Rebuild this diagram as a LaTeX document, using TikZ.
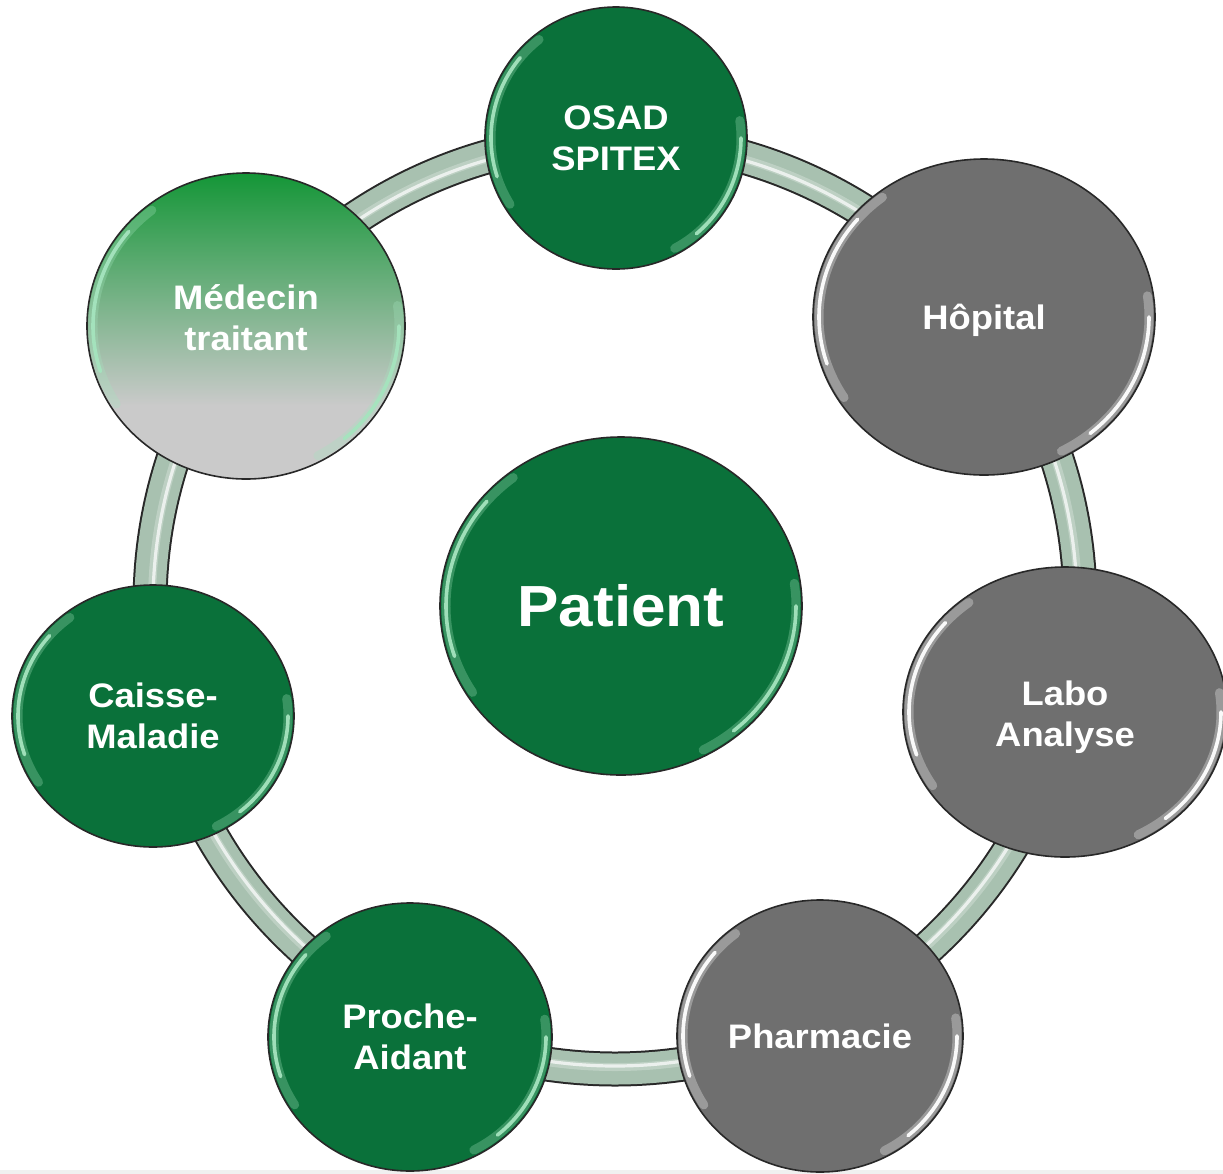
\documentclass[tikz,border=0pt]{standalone}
\usepackage{fontspec}
\setmainfont{Liberation Sans}[FakeStretch=1.07]
\usetikzlibrary{shapes.geometric}
\definecolor{dgreen}{RGB}{10,113,58}
\definecolor{cgray}{RGB}{111,111,111}
\definecolor{tubecol}{RGB}{168,193,176}
\definecolor{rimcol}{RGB}{40,40,40}
\definecolor{mgreen}{RGB}{20,150,55}
\definecolor{mgray}{RGB}{202,202,202}
\definecolor{lgreen}{RGB}{165,228,190}
\definecolor{stripcol}{RGB}{240,240,240}
\pgfdeclareverticalshading{medgrad}{100bp}{color(0bp)=(mgray); color(37bp)=(mgray); color(75bp)=(mgreen); color(100bp)=(mgreen)}
\tikzset{
  actor/.style={ellipse, draw=rimcol, line width=0.8pt, inner sep=0pt, text=white,
    font=\bfseries\fontsize{17}{20.5}\selectfont, align=center},
  gactor/.style={actor, fill=dgreen},
  yactor/.style={actor, fill=cgray},
  mactor/.style={actor, shading=medgrad},
  tubeedge/.style={draw=rimcol, line width=17.5pt},
  tubebody/.style={draw=tubecol, line width=15.5pt},
  tubeshine/.style={draw=white, line width=1.6pt, opacity=0.7},
  tubesoft/.style={draw=white, line width=4pt, opacity=0.25},
  shinewide/.style={line width=4.5pt, opacity=0.3, line cap=round},
  shinethin/.style={line width=1.8pt, opacity=0.95, line cap=round}
}
\newcommand\shine[4]{%
  \draw[shinewide, draw=#4] (#1.center) ++(128:{#2-6} and {#3-6}) arc[start angle=128, end angle=212, x radius={#2-6}, y radius={#3-6}];
  \draw[shinethin, draw=#4] (#1.center) ++(140:{#2-6} and {#3-6}) arc[start angle=140, end angle=198, x radius={#2-6}, y radius={#3-6}];
  \draw[shinewide, draw=#4] (#1.center) ++(-62:{#2-6} and {#3-6}) arc[start angle=-62, end angle=8, x radius={#2-6}, y radius={#3-6}];
  \draw[shinethin, draw=#4] (#1.center) ++(-50:{#2-6} and {#3-6}) arc[start angle=-50, end angle=0, x radius={#2-6}, y radius={#3-6}];
}
\begin{document}
\begin{tikzpicture}[x=0.5pt, y=0.5pt]
  \useasboundingbox (0,0) rectangle (1223,-1174);
  \clip (0,0) rectangle (1223,-1174);
  \fill[white] (0,0) rectangle (1223,-1174);
  \fill[stripcol] (0,-1170) rectangle (1223,-1174);
  % ring
  \coordinate (hub) at (615,-604);
  \draw[tubeedge] (hub) circle[radius=465];
  \draw[tubebody] (hub) circle[radius=465];
  \draw[tubesoft] (hub) circle[radius=463];
  \draw[tubeshine] (hub) circle[radius=462];
  % actors
  \node[gactor, minimum width=131pt, minimum height=131pt] (osad) at (616,-138) {OSAD\\SPITEX};
  \node[yactor, minimum width=171pt, minimum height=158pt, text depth=0pt] (hopital) at (984,-317) {Hôpital};
  \node[mactor, minimum width=159pt, minimum height=153pt] (medecin) at (246,-326) {Médecin\\traitant\rule[-8pt]{0pt}{0pt}};
  \node[yactor, minimum width=162pt, minimum height=145pt] (labo) at (1065,-712) {\rule{0pt}{17.5pt}Labo\\Analyse};
  \node[gactor, minimum width=141pt, minimum height=131pt] (caisse) at (153,-716) {Caisse-\\Maladie};
  \node[gactor, minimum width=142pt, minimum height=134pt] (proche) at (410,-1037) {Proche-\\Aidant};
  \node[yactor, minimum width=143pt, minimum height=136pt] (pharma) at (820,-1036) {Pharmacie};
  \node[gactor, minimum width=181pt, minimum height=169pt, font=\bfseries\fontsize{29}{34}\selectfont] (patient) at (621,-606) {Patient};
  \shine{osad}{131}{131}{lgreen}
  \shine{hopital}{171}{158}{white}
  \shine{medecin}{159}{153}{lgreen}
  \shine{labo}{162}{145}{white}
  \shine{caisse}{141}{131}{lgreen}
  \shine{proche}{142}{134}{lgreen}
  \shine{pharma}{143}{136}{white}
  \shine{patient}{181}{169}{lgreen}
\end{tikzpicture}
\end{document}
